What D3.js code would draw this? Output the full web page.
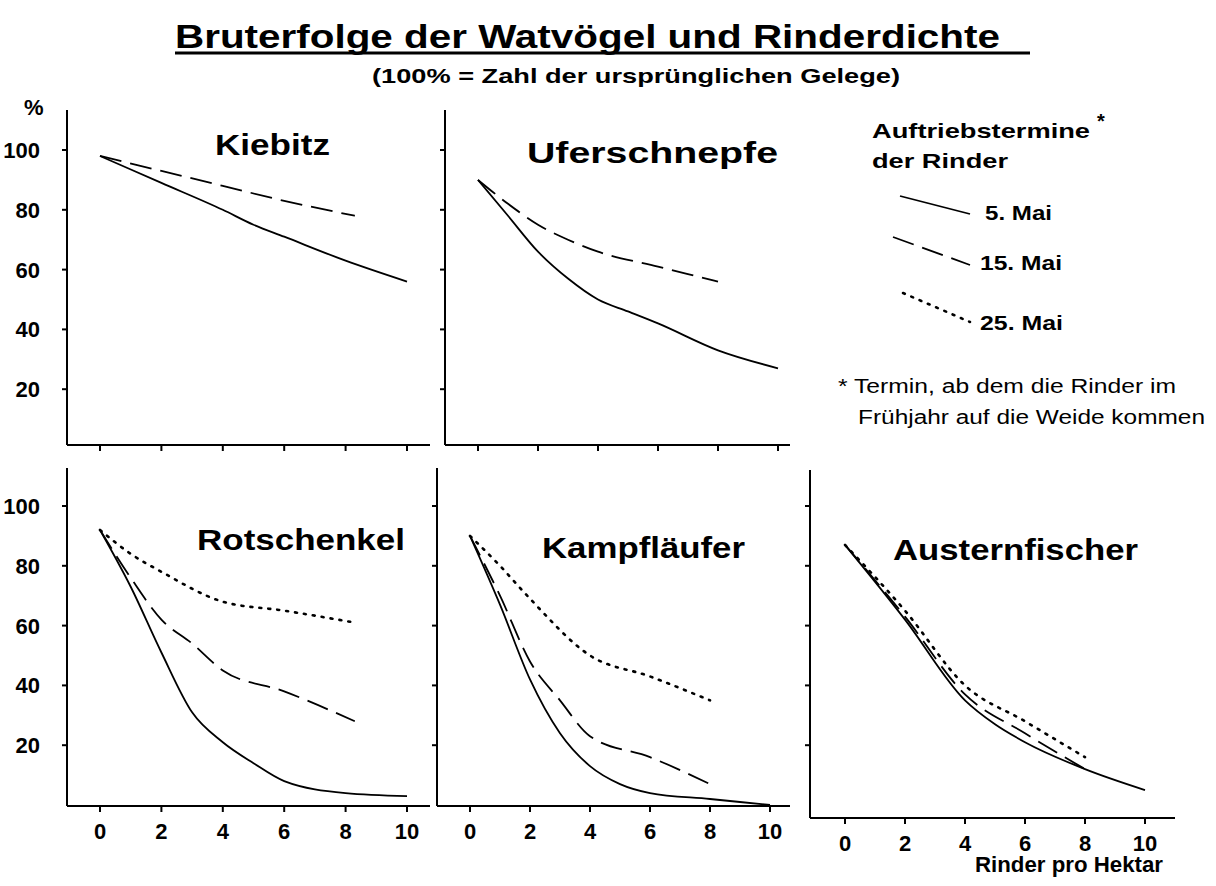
<!DOCTYPE html>
<html><head><meta charset="utf-8">
<script src="https://cdn.jsdelivr.net/npm/d3@7"></script>
<style>body{margin:0;background:#fff}text{font-family:"Liberation Sans",Arial,sans-serif;fill:#000}</style>
</head><body>
<script>
// tick labels
var xTicks = [0, 2, 4, 6, 8, 10];
var yTicks = [20, 40, 60, 80, 100];

// series: [Rinder pro ha, %]
var kiebitz5 = [[0,98],[2,89],[4,80],[5,75],[6,71],[8,63],[10,56]];
var kiebitz15 = [[0,98],[2,93],[4,88],[6,83],[8.3,78]];
var ufer5 = [[0,90],[1,78],[2,66],[3,57],[4,50],[5,46],[6,42],[8,33],[10,27]];
var ufer15 = [[0,90],[1,82],[2,75],[3,70],[4,66],[6,61],[8,56]];
var rot5 = [[0,92],[1,73],[2,51],[3,31],[4,21],[5,14],[6,8],[8,4],[10,3]];
var rot15 = [[0,92],[1,76],[2,62],[3,54],[4,45],[6,38],[8.3,28]];
var rot25 = [[0,92],[1,84],[2,78],[4,68],[6,65],[8.3,61]];
var kampf5 = [[0,90],[1,67],[2,42],[3,24],[4,13],[5,7],[6,4],[8,2],[10,0]];
var kampf15 = [[0,90],[1,70],[2,48],[3,35],[4,23],[6,16],[8,7]];
var kampf25 = [[0,90],[1,80],[2,69],[4,50],[6,43],[8,35]];
var auster5 = [[0,87],[2,62],[4,35],[5,27],[6,21],[8,12],[10,5]];
var auster15 = [[0,87],[2,63],[4,37],[6,24],[8,12]];
var auster25 = [[0,87],[2,65],[4,40],[6,28],[8,16]];

var dash = {s: null, d: "22,9", p: "2,7"};

var panels = [
  {name:"Kiebitz", ax:67, x0:100, unit:30.7, top:110, bottom:445, y100:150, right:430, tx:215, tw:115, ty:155, yLabels:true,
   series:[[kiebitz5,"s"],[kiebitz15,"d"]], xLabels:false},
  {name:"Uferschnepfe", ax:445, x0:478, unit:30.0, top:110, bottom:445, y100:150, right:790, tx:527, tw:251, ty:163, yLabels:false,
   series:[[ufer5,"s"],[ufer15,"d"]], xLabels:false},
  {name:"Rotschenkel", ax:67, x0:100, unit:30.7, top:468, bottom:806, y100:506, right:430, tx:197, tw:208, ty:550, yLabels:true,
   series:[[rot5,"s"],[rot15,"d"],[rot25,"p"]], xLabels:true},
  {name:"Kampfläufer", ax:437, x0:470, unit:30.0, top:468, bottom:806, y100:506, right:790, tx:542, tw:203, ty:558, yLabels:false,
   series:[[kampf5,"s"],[kampf15,"d"],[kampf25,"p"]], xLabels:true},
  {name:"Austernfischer", ax:810, x0:845, unit:30.0, top:470, bottom:818, y100:506, right:1175, tx:893, tw:245, ty:560, yLabels:false,
   series:[[auster5,"s"],[auster15,"d"],[auster25,"p"]], xLabels:true}
];

var svg = d3.select("body").append("svg").attr("width",1216).attr("height",886);

function txt(x, y, s, size, bold, w) {
  var t = svg.append("text").attr("x",x).attr("y",y).style("font-size",size+"px")
    .style("font-weight", bold ? "bold" : "normal").text(s);
  if (w) t.attr("textLength", w).attr("lengthAdjust","spacingAndGlyphs");
  return t;
}

txt(175, 48, "Bruterfolge der Watvögel und Rinderdichte", 34, true, 825);
svg.append("line").attr("x1",175).attr("x2",1030).attr("y1",53).attr("y2",53).attr("stroke","#000").attr("stroke-width",3);
txt(372, 83, "(100% = Zahl der ursprünglichen Gelege)", 21, true, 528);
txt(24, 115, "%", 22, true);

panels.forEach(function (p) {
  var x = d3.scaleLinear().domain([0,10]).range([p.x0, p.x0 + 10*p.unit]);
  var y0 = p.y100 + 100*2.99;
  var y = d3.scaleLinear().domain([0,100]).range([y0, p.y100]);
  var g = svg.append("g");
  g.append("line").attr("x1",p.ax).attr("x2",p.ax).attr("y1",p.top).attr("y2",p.bottom).attr("stroke","#000").attr("stroke-width",2);
  g.append("line").attr("x1",p.ax).attr("x2",p.right).attr("y1",p.bottom).attr("y2",p.bottom).attr("stroke","#000").attr("stroke-width",2);
  yTicks.forEach(function (t) {
    g.append("line").attr("x1",p.ax-5).attr("x2",p.ax).attr("y1",y(t)).attr("y2",y(t)).attr("stroke","#000").attr("stroke-width",2);
    if (p.yLabels) g.append("text").attr("x",p.ax-27).attr("y",y(t)+8).attr("text-anchor","end")
      .style("font-size","22px").style("font-weight","bold").text(t);
  });
  xTicks.forEach(function (t) {
    g.append("line").attr("x1",x(t)).attr("x2",x(t)).attr("y1",p.bottom).attr("y2",p.bottom+6).attr("stroke","#000").attr("stroke-width",2);
    if (p.xLabels) g.append("text").attr("x",x(t)).attr("y",p.bottom+33).attr("text-anchor","middle")
      .style("font-size","22px").style("font-weight","bold").text(t);
  });
  var line = d3.line().curve(d3.curveMonotoneX).x(function (d) {return x(d[0])}).y(function (d) {return y(d[1])});
  p.series.forEach(function (s) {
    g.append("path").attr("d",line(s[0])).attr("fill","none").attr("stroke","#000")
      .attr("stroke-width", s[1]=="p" ? 2.6 : 1.8).attr("stroke-dasharray",dash[s[1]])
      .attr("stroke-linecap", s[1]=="p" ? "round" : "butt");
  });
  txt(p.tx, p.ty, p.name, 30, true, p.tw);
});

// legend
txt(872, 138, "Auftriebstermine", 21, true, 218);
txt(1097, 128, "*", 20, true);
txt(872, 168, "der Rinder", 21, true, 136);
var legItems = [["s","5. Mai",[900,196,970,214],985,220,67],["d","15. Mai",[893,237,970,265],980,270,82],["p","25. Mai",[903,293,970,322],980,330,83]];
legItems.forEach(function (l) {
  svg.append("line").attr("x1",l[2][0]).attr("y1",l[2][1]).attr("x2",l[2][2]).attr("y2",l[2][3])
    .attr("stroke","#000").attr("stroke-width", l[0]=="p" ? 2.6 : 1.8).attr("stroke-dasharray",dash[l[0]])
    .attr("stroke-linecap", l[0]=="p" ? "round" : "butt");
  txt(l[3], l[4], l[1], 21, true, l[5]);
});
txt(838, 393, "* Termin, ab dem die Rinder im", 20, false, 338);
txt(858, 424, "Frühjahr auf die Weide kommen", 20, false, 347);
txt(975, 872, "Rinder pro Hektar", 22, true, 188);
</script>
</body></html>
